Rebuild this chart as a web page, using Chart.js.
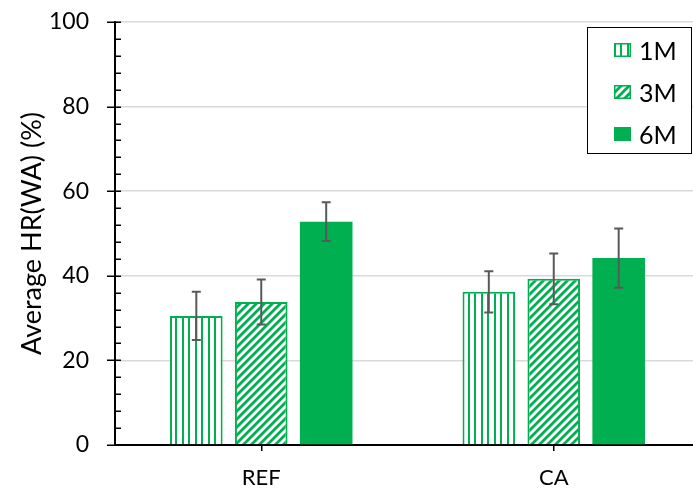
<!DOCTYPE html>
<html>
<head>
<meta charset="utf-8">
<script src="https://cdn.jsdelivr.net/npm/chart.js@4.4.0/dist/chart.umd.min.js"></script>
<style>
    html, body { margin: 0; padding: 0; overflow: hidden; background: #fff; }
    #wrap { position: absolute; left: 0; top: 0; width: 706px; height: 495px; }
    #legend {
        position: absolute; left: 587px; top: 27px; width: 105px; height: 127px;
        box-sizing: border-box; border: 1px solid #000; background: #fff;
        font-family: Lato, sans-serif; font-size: 25px; color: #000;
    }
    .item { position: absolute; left: 26px; height: 28px; display: flex; align-items: center; }
    .item canvas { margin-right: 8px; }
</style>
</head>
<body>
<div id="wrap">
    <canvas id="chart" width="706" height="495"></canvas>
    <div id="legend"></div>
</div>
<script>
// Data
const categories = ['REF', 'CA'];
const seriesNames = ['1M', '3M', '6M'];
const values1M = [30.5, 36.2];
const values3M = [33.8, 39.3];
const values6M = [52.8, 44.2];
const errors1M = [5.7, 4.9];
const errors3M = [5.3, 6.0];
const errors6M = [4.6, 7.0];
const yMin = 0;
const yMax = 100;
const yStep = 20;
const yMinorStep = 4;

const green = '#00b050';
const canvas = document.getElementById('chart');
const ctx = canvas.getContext('2d');

// Fill patterns
function makeVerticalStripes(color) {
    const c = document.createElement('canvas');
    c.width = 13;
    c.height = 4;
    const g = c.getContext('2d');
    g.fillStyle = '#fff';
    g.fillRect(0, 0, 13, 4);
    g.fillStyle = color;
    g.fillRect(0, 0, 2, 4);
    g.fillRect(6, 0, 2, 4);
    return ctx.createPattern(c, 'repeat');
}

function makeDiagonalStripes(color) {
    const s = 8;
    const c = document.createElement('canvas');
    c.width = s;
    c.height = s;
    const g = c.getContext('2d');
    g.fillStyle = '#fff';
    g.fillRect(0, 0, s, s);
    g.strokeStyle = color;
    g.lineWidth = 2.8;
    g.beginPath();
    g.moveTo(-1, s + 1);
    g.lineTo(s + 1, -1);
    g.moveTo(-2, 2);
    g.lineTo(2, -2);
    g.moveTo(s - 2, s + 2);
    g.lineTo(s + 2, s - 2);
    g.stroke();
    return ctx.createPattern(c, 'repeat');
}

const fills = [makeVerticalStripes(green), makeDiagonalStripes(green), green];

// Error bars plugin
const errorBars = {
    id: 'errorBars',
    afterDatasetsDraw(chart) {
        const c = chart.ctx;
        const yScale = chart.scales.y;
        c.save();
        c.strokeStyle = '#595959';
        c.lineWidth = 2;
        chart.data.datasets.forEach((ds, i) => {
            const meta = chart.getDatasetMeta(i);
            meta.data.forEach((bar, j) => {
                const v = ds.data[j];
                const e = ds.errors[j];
                const top = yScale.getPixelForValue(v + e);
                const bot = yScale.getPixelForValue(v - e);
                c.beginPath();
                c.moveTo(bar.x, top);
                c.lineTo(bar.x, bot);
                c.moveTo(bar.x - 4.5, top);
                c.lineTo(bar.x + 4.5, top);
                c.moveTo(bar.x - 4.5, bot);
                c.lineTo(bar.x + 4.5, bot);
                c.stroke();
            });
        });
        c.restore();
    }
};

// Tick marks on the value axis (major cross, minor inside)
const yTickMarks = {
    id: 'yTickMarks',
    afterDraw(chart) {
        const c = chart.ctx;
        const yScale = chart.scales.y;
        const x = chart.chartArea.left;
        c.save();
        c.strokeStyle = '#000';
        c.lineWidth = 1.5;
        for (let v = yMin; v <= yMax; v += yMinorStep) {
            const y = Math.round(yScale.getPixelForValue(v)) + 0.25;
            c.beginPath();
            if (v % yStep === 0) {
                c.moveTo(x - 8, y);
            } else {
                c.moveTo(x, y);
            }
            c.lineTo(x + 6, y);
            c.stroke();
        }
        c.restore();
    }
};

const chart = new Chart(ctx, {
    type: 'bar',
    data: {
        labels: categories,
        datasets: [
            { label: seriesNames[0], data: values1M, errors: errors1M, backgroundColor: fills[0], borderColor: green, borderWidth: 2 },
            { label: seriesNames[1], data: values3M, errors: errors3M, backgroundColor: fills[1], borderColor: green, borderWidth: 2 },
            { label: seriesNames[2], data: values6M, errors: errors6M, backgroundColor: fills[2], borderColor: green, borderWidth: 0 }
        ]
    },
    options: {
        responsive: false,
        animation: false,
        devicePixelRatio: 1,
        categoryPercentage: 0.666,
        barPercentage: 0.81,
        layout: { padding: { top: 22, right: 6, left: 0, bottom: 0 } },
        plugins: {
            legend: { display: false },
            tooltip: { enabled: false }
        },
        scales: {
            x: {
                afterFit(scale) { scale.height = 50; },
                grid: { display: true, drawOnChartArea: false, offset: false, tickLength: 6, tickColor: '#000', lineWidth: 1.5 },
                border: { display: true, color: '#000', width: 2 },
                ticks: { color: '#000', padding: 14, font: { family: 'Lato', size: 22 } }
            },
            y: {
                min: yMin,
                max: yMax,
                afterFit(scale) {
                    scale.width = 115;
                    scale.paddingTop = 0;
                    scale.paddingBottom = 0;
                },
                ticks: { stepSize: yStep, color: '#000', padding: 26, font: { family: 'Lato', size: 23 } },
                grid: { color: '#d9d9d9', lineWidth: 1.5, drawTicks: false },
                border: { display: true, color: '#000', width: 2 },
                title: {
                    display: true,
                    text: 'Average HR(WA) (%)',
                    color: '#000',
                    font: { family: 'Lato', size: 27 },
                    padding: { top: 16, bottom: 0 }
                }
            }
        }
    },
    plugins: [errorBars, yTickMarks]
});

// Legend built from the datasets
function buildLegend() {
    const legend = document.getElementById('legend');
    const rows = [8, 50, 92];
    chart.data.datasets.forEach((ds, i) => {
        const item = document.createElement('div');
        item.className = 'item';
        item.style.top = rows[i] + 'px';
        const sw = document.createElement('canvas');
        sw.width = 17;
        sw.height = 14;
        const g = sw.getContext('2d');
        g.fillStyle = ds.backgroundColor;
        g.fillRect(0, 0, 17, 14);
        if (ds.borderWidth) {
            g.strokeStyle = green;
            g.lineWidth = 1.5;
            g.strokeRect(0.75, 0.75, 15.5, 12.5);
        }
        item.appendChild(sw);
        item.append(ds.label);
        legend.appendChild(item);
    });
}

buildLegend();
</script>
</body>
</html>
